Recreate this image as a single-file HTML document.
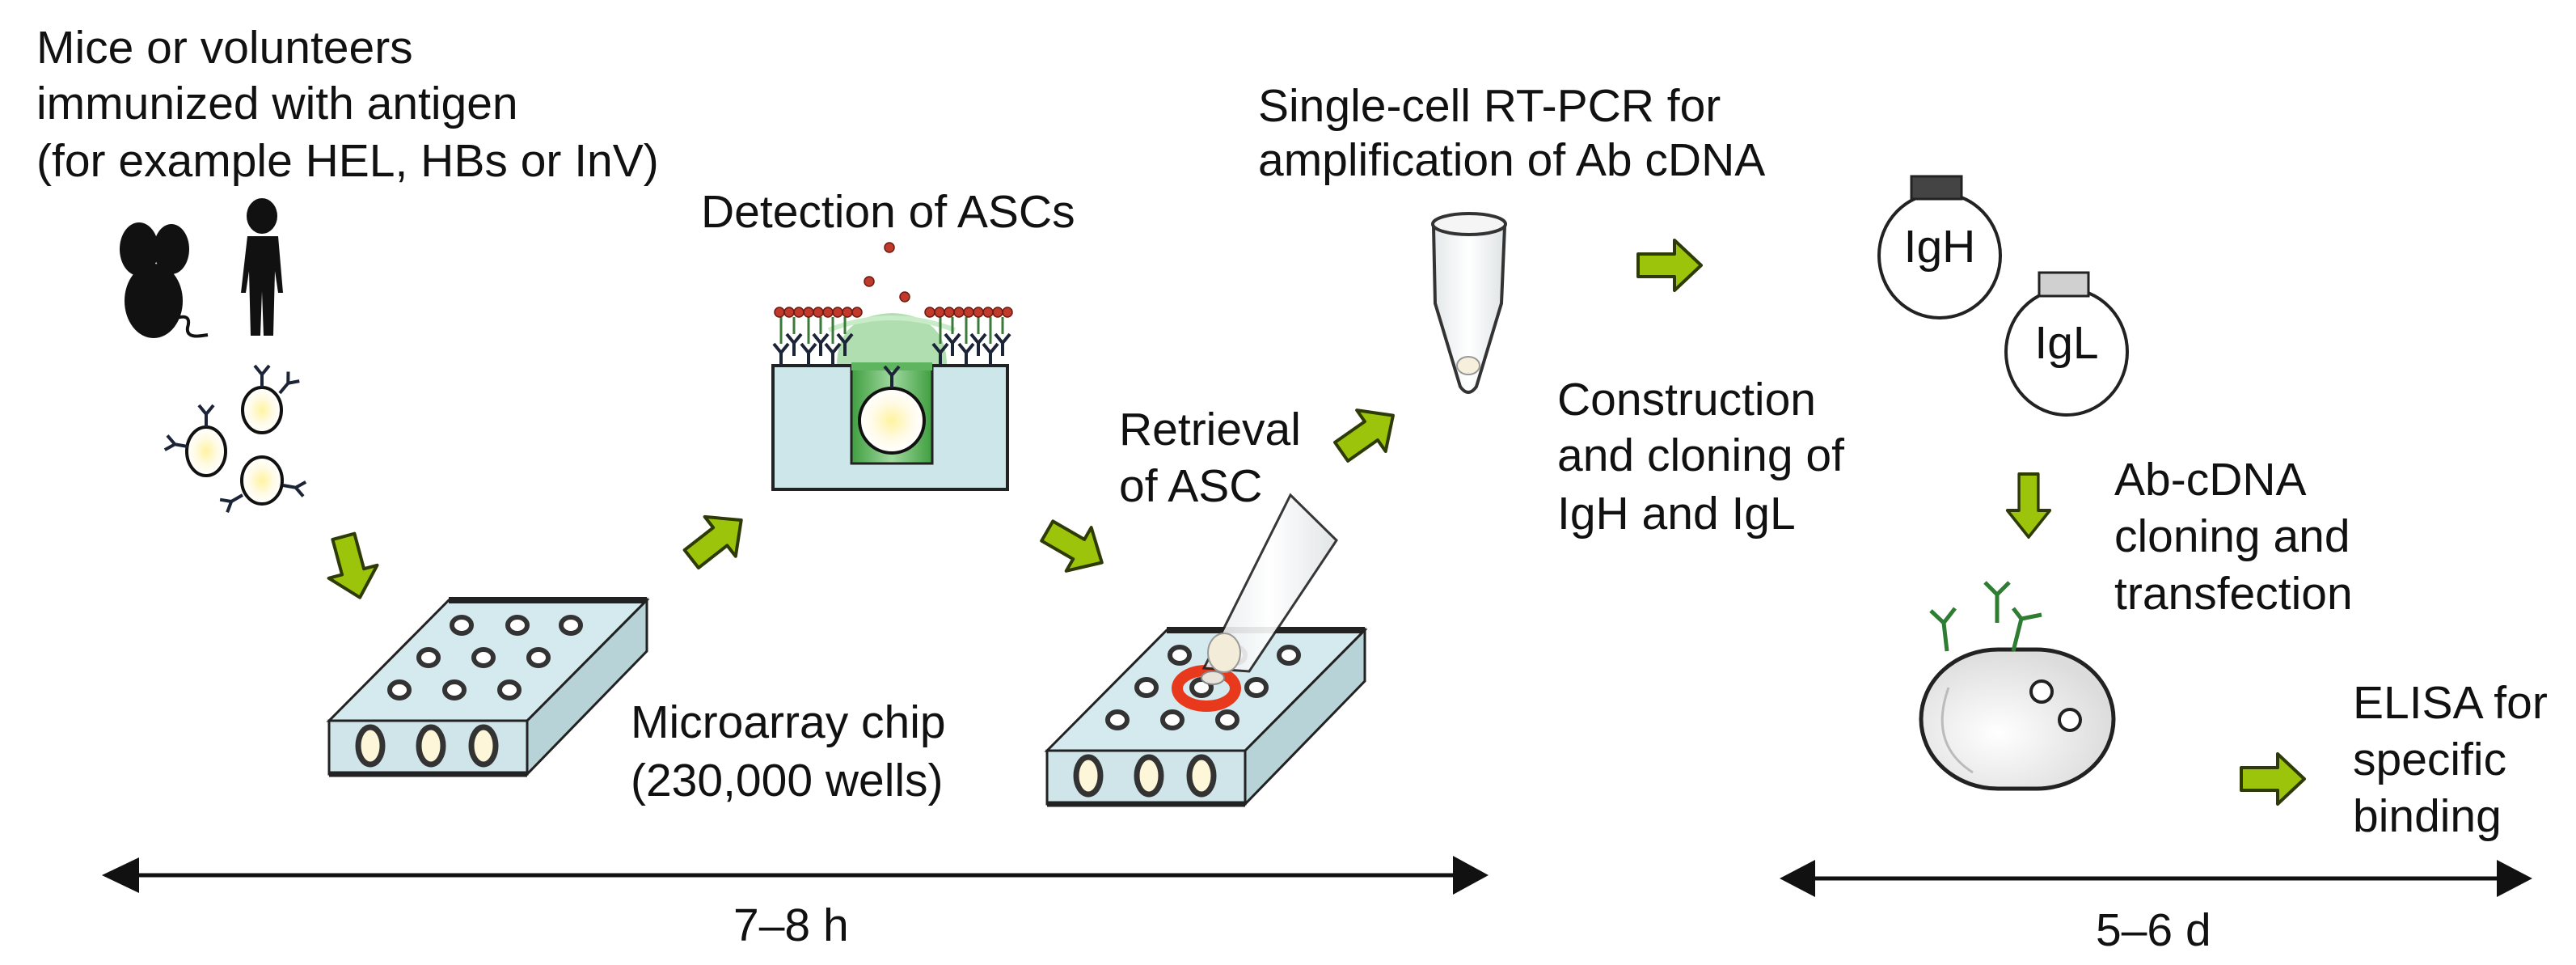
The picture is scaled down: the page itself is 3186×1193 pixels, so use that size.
<!DOCTYPE html>
<html><head><meta charset="utf-8"><style>
html,body{margin:0;padding:0;background:#fff}
svg{display:block}
text{font-family:"Liberation Sans",Arial,sans-serif;font-size:57px;fill:#111}
</style></head><body>
<svg width="3186" height="1193" viewBox="0 0 3186 1193" xmlns="http://www.w3.org/2000/svg">
<defs>
<radialGradient id="cellg" cx="0.5" cy="0.5" r="0.5"><stop offset="0" stop-color="#fff3a0"/><stop offset="0.6" stop-color="#fffbe8"/><stop offset="1" stop-color="#fff"/></radialGradient>
<linearGradient id="wellg" x1="0" y1="0" x2="1" y2="0"><stop offset="0" stop-color="#3f9e3f"/><stop offset="0.5" stop-color="#9fd89f"/><stop offset="1" stop-color="#3f9e3f"/></linearGradient>
<linearGradient id="tubeg" x1="0" y1="0" x2="1" y2="0"><stop offset="0" stop-color="#e4e8ea"/><stop offset="0.5" stop-color="#fff"/><stop offset="1" stop-color="#dfe3e5"/></linearGradient>
<radialGradient id="bigcell" cx="0.4" cy="0.6" r="0.6"><stop offset="0" stop-color="#fff"/><stop offset="1" stop-color="#dcdcdc"/></radialGradient>
<path id="garrow" d="M-39,-14 L6,-14 L6,-31 L39,0 L6,31 L6,14 L-39,14 Z" fill="#9cc40a" stroke="#2e3a08" stroke-width="4" stroke-linejoin="round"/>
<g id="ab"><path d="M0,0 V-16 M0,-16 L-9,-27 M0,-16 L9,-27" stroke="#1c2438" stroke-width="4" fill="none"/></g>
<g id="chip">
 <polygon points="407,891 555,742 800,742 652,891" fill="#d4eaee" stroke="#222" stroke-width="3"/>
 <line x1="555" y1="742" x2="800" y2="742" stroke="#222" stroke-width="8"/>
 <polygon points="652,891 800,742 800,805 652,957" fill="#b8d3d8" stroke="#222" stroke-width="3"/>
 <rect x="407" y="891" width="245" height="66" fill="#cfe5ea" stroke="#222" stroke-width="3"/>
 <line x1="407" y1="957" x2="652" y2="957" stroke="#222" stroke-width="7"/>
 <g fill="#fff" stroke="#333" stroke-width="6">
  <ellipse cx="571" cy="773" rx="12" ry="10"/><ellipse cx="640" cy="773" rx="12" ry="10"/><ellipse cx="706" cy="773" rx="12" ry="10"/>
  <ellipse cx="530" cy="813" rx="12" ry="10"/><ellipse cx="598" cy="813" rx="12" ry="10"/><ellipse cx="666" cy="813" rx="12" ry="10"/>
  <ellipse cx="494" cy="853" rx="12" ry="10"/><ellipse cx="562" cy="853" rx="12" ry="10"/><ellipse cx="630" cy="853" rx="12" ry="10"/>
 </g>
 <g fill="#fdf6d8" stroke="#333" stroke-width="7">
  <ellipse cx="458" cy="922" rx="15" ry="23"/><ellipse cx="533" cy="922" rx="15" ry="23"/><ellipse cx="598" cy="922" rx="15" ry="23"/>
 </g>
</g>
</defs>

<text x="45" y="78">Mice or volunteers</text>
<text x="45" y="147">immunized with antigen</text>
<text x="45" y="218">(for example HEL, HBs or InV)</text>

<g fill="#111">
 <ellipse cx="172" cy="308" rx="24" ry="33"/><ellipse cx="212" cy="308" rx="22" ry="31"/>
 <ellipse cx="190" cy="372" rx="36" ry="46"/>
</g>
<path d="M213,395 Q238,385 232,405 Q230,418 250,415 L257,414" stroke="#111" stroke-width="4" fill="none"/>
<g fill="#111">
 <ellipse cx="324" cy="267" rx="19" ry="22"/>
 <path d="M306,292 L344,292 L350,362 L344,362 L340,335 L338,415 L326,415 L324,360 L322,415 L310,415 L308,335 L304,362 L298,362 Z"/>
</g>
<g stroke="#111" stroke-width="4">
 <ellipse cx="324" cy="507" rx="24" ry="28" fill="url(#cellg)"/>
 <ellipse cx="255" cy="558" rx="24" ry="30" fill="url(#cellg)"/>
 <ellipse cx="324" cy="594" rx="25" ry="29" fill="url(#cellg)"/>
</g>
<use href="#ab" x="324" y="479"/><use href="#ab" transform="translate(346,486) rotate(40)"/>
<use href="#ab" x="255" y="528"/><use href="#ab" transform="translate(232,552) rotate(-80)"/>
<use href="#ab" transform="translate(350,600) rotate(100)"/><use href="#ab" transform="translate(300,612) rotate(-120)"/>

<use href="#garrow" transform="translate(435,701) rotate(75)"/>
<use href="#garrow" transform="translate(886,667) rotate(-38)"/>
<use href="#garrow" transform="translate(1329,676) rotate(30)"/>
<use href="#garrow" transform="translate(1691,536) rotate(-35)"/>
<use href="#garrow" transform="translate(2065,328)"/>
<use href="#garrow" transform="translate(2509,625) rotate(90) scale(1,0.85)"/>
<use href="#garrow" transform="translate(2811,963)"/>

<use href="#chip"/>
<text x="780" y="912">Microarray chip</text>
<text x="780" y="984">(230,000 wells)</text>

<text x="867" y="281">Detection of ASCs</text>
<path d="M1035,452 Q1035,390 1103,387 Q1171,390 1171,452 Z" fill="#8fd08f" opacity="0.7"/>
<path d="M1025,408 Q1103,378 1181,408" stroke="#c8ecc8" stroke-width="6" fill="none"/>
<rect x="956" y="452" width="290" height="153" fill="#cde6ea" stroke="#222" stroke-width="4"/>
<rect x="1053" y="452" width="100" height="121" fill="url(#wellg)" stroke="#222" stroke-width="3"/>
<rect x="1053" y="448" width="100" height="10" fill="#5fb45f"/>
<circle cx="1103" cy="520" r="40" fill="url(#cellg)" stroke="#111" stroke-width="4"/>
<use href="#ab" x="1103" y="480"/>
<g>
 <use href="#ab" x="966" y="452"/><use href="#ab" x="982" y="440"/><use href="#ab" x="1000" y="452"/><use href="#ab" x="1015" y="440"/><use href="#ab" x="1030" y="452"/><use href="#ab" x="1045" y="440"/>
 <use href="#ab" x="1163" y="452"/><use href="#ab" x="1178" y="440"/><use href="#ab" x="1195" y="452"/><use href="#ab" x="1210" y="440"/><use href="#ab" x="1225" y="452"/><use href="#ab" x="1240" y="440"/>
 <path d="M966,392 V425 M982,392 V413 M1000,392 V425 M1015,392 V413 M1030,392 V425 M1045,392 V413 M1163,392 V425 M1178,392 V413 M1195,392 V425 M1210,392 V413 M1225,392 V425 M1240,392 V413" stroke="#3a7a3a" stroke-width="3"/>
</g>
<g fill="#c0392b" stroke="#6a1a10" stroke-width="1.5">
 <circle cx="964" cy="386" r="6"/><circle cx="976" cy="386" r="6"/><circle cx="988" cy="386" r="6"/><circle cx="1000" cy="386" r="6"/><circle cx="1012" cy="386" r="6"/><circle cx="1024" cy="386" r="6"/><circle cx="1036" cy="386" r="6"/><circle cx="1048" cy="386" r="6"/><circle cx="1060" cy="386" r="6"/>
 <circle cx="1150" cy="386" r="6"/><circle cx="1162" cy="386" r="6"/><circle cx="1174" cy="386" r="6"/><circle cx="1186" cy="386" r="6"/><circle cx="1198" cy="386" r="6"/><circle cx="1210" cy="386" r="6"/><circle cx="1222" cy="386" r="6"/><circle cx="1234" cy="386" r="6"/><circle cx="1246" cy="386" r="6"/>
 <circle cx="1100" cy="306" r="6"/><circle cx="1075" cy="348" r="6"/><circle cx="1119" cy="367" r="6"/>
</g>

<text x="1384" y="550">Retrieval</text>
<text x="1384" y="620">of ASC</text>
<g transform="translate(888,37)"><use href="#chip"/></g>
<ellipse cx="1492" cy="851" rx="36" ry="22" fill="none" stroke="#e8391d" stroke-width="14"/>
<polygon points="1596,612 1653,668 1545,830 1489,826" fill="url(#tubeg)" stroke="#222" stroke-width="3" opacity="0.9"/>
<ellipse cx="1514" cy="807" rx="20" ry="24" fill="#f3ecd8" stroke="#999" stroke-width="2"/>
<ellipse cx="1500" cy="838" rx="14" ry="8" fill="#e8e4dc" stroke="#888" stroke-width="2"/>

<text x="1556" y="150">Single-cell RT-PCR for</text>
<text x="1556" y="217">amplification of Ab cDNA</text>
<path d="M1773,280 L1775,375 L1806,478 Q1816,492 1826,478 L1857,375 L1861,280 Z" fill="url(#tubeg)" stroke="#333" stroke-width="4"/>
<ellipse cx="1817" cy="277" rx="45" ry="13" fill="#f5f5f5" stroke="#333" stroke-width="4"/>
<ellipse cx="1816" cy="452" rx="14" ry="11" fill="#f5efdc" stroke="#999" stroke-width="2"/>

<text x="1926" y="513">Construction</text>
<text x="1926" y="582">and cloning of</text>
<text x="1926" y="654">IgH and IgL</text>

<ellipse cx="2399" cy="316" rx="75" ry="77" fill="#fff" stroke="#222" stroke-width="4"/>
<rect x="2364" y="218" width="62" height="28" fill="#444" stroke="#222" stroke-width="3"/>
<text x="2399" y="324" text-anchor="middle">IgH</text>
<ellipse cx="2556" cy="435" rx="75" ry="78" fill="#fff" stroke="#222" stroke-width="4"/>
<rect x="2522" y="337" width="61" height="29" fill="#d0d0d0" stroke="#222" stroke-width="3"/>
<text x="2556" y="443" text-anchor="middle">IgL</text>

<text x="2615" y="612">Ab-cDNA</text>
<text x="2615" y="682">cloning and</text>
<text x="2615" y="753">transfection</text>

<rect x="2376" y="803" width="238" height="172" rx="95" ry="86" fill="url(#bigcell)" stroke="#222" stroke-width="5"/>
<path d="M2410,850 Q2385,920 2440,955" stroke="#bbb" stroke-width="3" fill="none"/>
<circle cx="2525" cy="855" r="13" fill="#fff" stroke="#222" stroke-width="4"/>
<circle cx="2560" cy="890" r="13" fill="#fff" stroke="#222" stroke-width="4"/>
<g stroke="#2e7d32" stroke-width="5" fill="none">
 <path d="M2408,805 L2404,770 M2404,770 L2388,755 M2404,770 L2418,752"/>
 <path d="M2470,770 L2470,735 M2470,735 L2455,720 M2470,735 L2485,720"/>
 <path d="M2490,805 L2500,765 M2500,765 L2490,752 M2500,765 L2525,760"/>
</g>

<text x="2910" y="888">ELISA for</text>
<text x="2910" y="958">specific</text>
<text x="2910" y="1028">binding</text>

<line x1="170" y1="1082" x2="1800" y2="1082" stroke="#111" stroke-width="5"/>
<polygon points="126,1082 172,1060 172,1104" fill="#111"/>
<polygon points="1841,1082 1797,1058 1797,1106" fill="#111"/>
<text x="907" y="1163">7–8 h</text>
<line x1="2240" y1="1086" x2="3100" y2="1086" stroke="#111" stroke-width="5"/>
<polygon points="2201,1086 2245,1063 2245,1109" fill="#111"/>
<polygon points="3132,1086 3088,1063 3088,1109" fill="#111"/>
<text x="2592" y="1169">5–6 d</text>
</svg>
</body></html>
